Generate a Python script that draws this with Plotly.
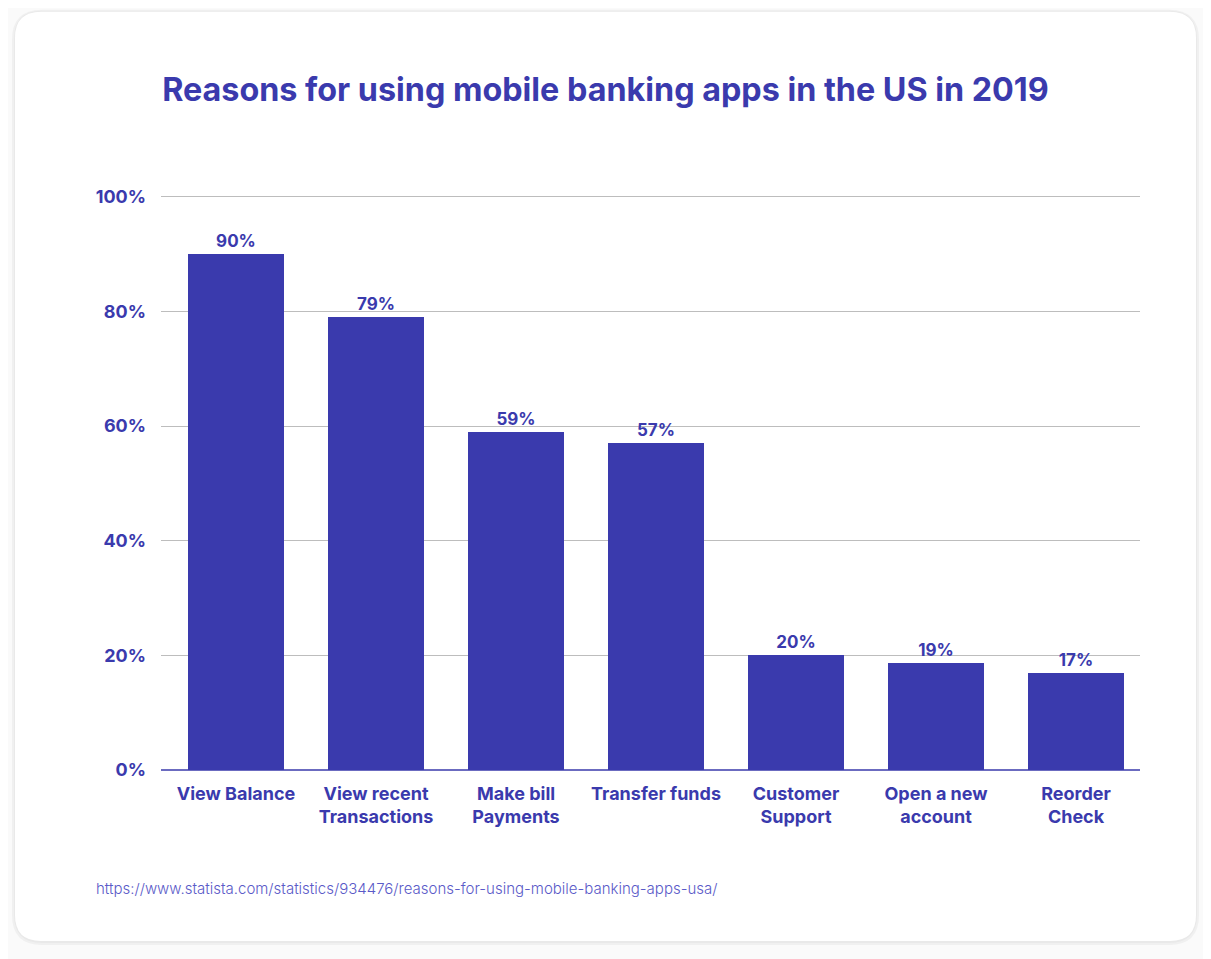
import plotly.graph_objects as go

categories = ["View Balance", "View recent<br>Transactions", "Make bill<br>Payments",
              "Transfer funds", "Customer<br>Support", "Open a new<br>account", "Reorder<br>Check"]
values = [90, 79, 59, 57, 20, 18.7, 17]
value_labels = ["90%", "79%", "59%", "57%", "20%", "19%", "17%"]
y_ticks = [0, 20, 40, 60, 80, 100]
y_tick_labels = ["0%", "20%", "40%", "60%", "80%", "100%"]

title = "Reasons for using mobile banking apps in the US in 2019"
source = "https://www.statista.com/statistics/934476/reasons-for-using-mobile-banking-apps-usa/"

BLUE = "#3a3aad"
FONT = "Inter"

# page body has an 8px margin; lay out in figure pixel coordinates
OFF = 8
W, H = 1211 - OFF, 959 - OFF
Y_MAX = 100.5
px_per_unit = 5.73
L = 161 - OFF
R = W - (1140 - OFF)
B = H - (770 - OFF)
ph = Y_MAX * px_per_unit
T = H - B - ph
pw = W - L - R


def px_to_paper(x, y):
    # x, y in reference page pixels
    x -= OFF
    y -= OFF
    return (x - L) / pw, (H - B - y) / ph


def rounded_rect(x0, y0, x1, y1, r):
    rx, ry = r / pw, r / ph
    X0, Y0 = px_to_paper(x0, y0)
    X1, Y1 = px_to_paper(x1, y1)
    return (f"M {X0+rx},{Y0} L {X1-rx},{Y0} Q {X1},{Y0} {X1},{Y0-ry} "
            f"L {X1},{Y1+ry} Q {X1},{Y1} {X1-rx},{Y1} "
            f"L {X0+rx},{Y1} Q {X0},{Y1} {X0},{Y1+ry} "
            f"L {X0},{Y0-ry} Q {X0},{Y0} {X0+rx},{Y0} Z")


fig = go.Figure()
fig.add_trace(go.Bar(
    x=list(range(len(categories))),
    y=values,
    text=value_labels,
    textposition="outside",
    texttemplate="%{text}",
    textfont=dict(family=FONT, size=17, color=BLUE, weight=700),
    marker=dict(color=BLUE, line=dict(width=0)),
    width=0.686,
    cliponaxis=False,
    hoverinfo="skip",
))

shapes = [
    dict(type="path", xref="paper", yref="paper", layer="below",
         path=rounded_rect(12, 10, 1199, 945, 30),
         fillcolor="#f0f0f0", line=dict(width=0)),
    dict(type="path", xref="paper", yref="paper", layer="below",
         path=rounded_rect(14, 11, 1197, 943, 28),
         fillcolor="#e9e9e9", line=dict(width=0)),
    dict(type="path", xref="paper", yref="paper", layer="below",
         path=rounded_rect(15, 12, 1196, 941, 26),
         fillcolor="#ffffff", line=dict(width=0)),
]

sx, sy = px_to_paper(94, 888)

fig.update_layout(
    width=W, height=H,
    margin=dict(l=L, r=R, t=T, b=B, autoexpand=False),
    paper_bgcolor="#fafafa",
    plot_bgcolor="rgba(0,0,0,0)",
    showlegend=False,
    bargap=0,
    shapes=shapes,
    title=dict(text=title, x=(605.5 - OFF) / W, xref="container", xanchor="center",
               y=1 - (90 - OFF) / H, yanchor="middle", yref="container",
               font=dict(family=FONT, size=32.3, color=BLUE, weight=700)),
    annotations=[dict(text=source, xref="paper", yref="paper",
                      x=sx, y=sy, xanchor="left", yanchor="middle", showarrow=False,
                      font=dict(family=FONT, size=15, color="#5a5ac8", weight=300))],
)

fig.update_xaxes(
    range=[-0.536, 6.457],
    tickmode="array", tickvals=list(range(len(categories))), ticktext=categories,
    tickfont=dict(family=FONT, size=18, color=BLUE, weight=700),
    showgrid=False, zeroline=False, showline=False, ticks="",
    ticklabelstandoff=11,
)
fig.update_yaxes(
    range=[0, Y_MAX],
    tickmode="array", tickvals=y_ticks, ticktext=y_tick_labels,
    tickfont=dict(family=FONT, size=18, color=BLUE, weight=700),
    showgrid=True, gridcolor="#bdbdbd", gridwidth=1,
    zeroline=True, zerolinecolor="#6b6bc0", zerolinewidth=1.5,
    showline=False, ticks="", ticklabelstandoff=14,
)

fig.write_html("out.html")
